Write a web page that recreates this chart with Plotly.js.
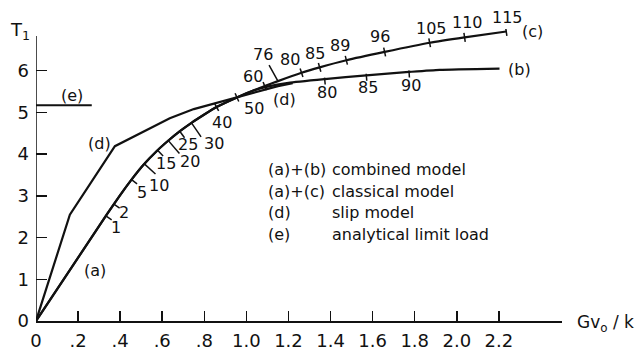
<!DOCTYPE html>
<html>
<head>
<meta charset="utf-8">
<script src="https://cdn.plot.ly/plotly-3.0.1.min.js"></script>
<style>html,body{margin:0;padding:0;background:#fff;}#chart{width:642px;height:353px;}</style>
</head>
<body>
<div id="chart"></div>
<script>
// ---------- data ----------
// shared part: (a) and the start of the curved branch
const commonX = [0, 0.336, 0.40, 0.454, 0.51, 0.573, 0.628, 0.681, 0.739, 0.80, 0.858, 0.955, 1.03];
const commonY = [0, 2.55, 3.02, 3.39, 3.74, 4.07, 4.32, 4.54, 4.75, 4.95, 5.13, 5.36, 5.52];
// (b) branch of the combined model
const bX = [1.10, 1.20, 1.372, 1.57, 1.773, 1.918, 2.203];
const bY = [5.62, 5.71, 5.80, 5.89, 5.97, 6.02, 6.05];
// (c) branch of the classical model
const cX = [1.087, 1.15, 1.262, 1.348, 1.475, 1.657, 1.871, 2.037, 2.235];
const cY = [5.63, 5.75, 5.95, 6.08, 6.25, 6.45, 6.67, 6.80, 6.94];
// (d) slip model
const dX = [0, 0.161, 0.375, 0.494, 0.636, 0.75, 0.858, 0.95, 1.05, 1.15, 1.22];
const dY = [0, 2.55, 4.19, 4.50, 4.86, 5.08, 5.23, 5.36, 5.50, 5.63, 5.70];
// (e) analytical limit load
const eX = [0, 0.265];
const eY = [5.17, 5.17];

// parameter ticks along the curves
const lowerTickLabels = ["1", "2", "5", "10", "15", "20", "25", "30"];
const lowerTickX = [0.332, 0.370, 0.454, 0.515, 0.578, 0.629, 0.683, 0.739];
const cTickLabels = ["40", "50", "60", "80", "85", "89", "96", "105", "110", "115"];
const cTickX = [0.858, 0.955, 1.087, 1.262, 1.348, 1.475, 1.657, 1.871, 2.037, 2.235];
const bTickLabels = ["80", "85", "90"];
const bTickX = [1.372, 1.570, 1.773];
const leaderLabel = "76";
const leaderX = 1.15;

// axis ticks
const xTickVals = [0, 0.2, 0.4, 0.6, 0.8, 1.0, 1.2, 1.4, 1.6, 1.8, 2.0, 2.2];
const xTickText = ["0", ".2", ".4", ".6", ".8", "1.0", "1.2", "1.4", "1.6", "1.8", "2.0", "2.2"];
const yTickVals = [0, 1, 2, 3, 4, 5, 6];
const yTickText = ["0", "1", "2", "3", "4", "5", "6"];

// legend text
const legendKeys = ["(a)+(b)", "(a)+(c)", "(d)", "(e)"];
const legendTexts = ["combined model", "classical model", "slip model", "analytical limit load"];

// ---------- styling / geometry ----------
const W = 642, H = 353;
const M = {l: 36, r: 80, t: 29, b: 32};
const xRange = [0, 2.5], yRange = [0, 7];
const plotW = W - M.l - M.r, plotH = H - M.t - M.b;
const kx = plotW / (xRange[1] - xRange[0]);
const ky = plotH / (yRange[1] - yRange[0]);
const FONT = "DejaVu Sans, sans-serif";
const INK = "#111";

// label offsets (screen px, +x right, +y down) and tick lengths
const lowerLabelOff = [[10,12],[10,8],[10,13],[15,22],[8,13],[22,21],[8,13],[23,21]];
const lowerTickLen = [7, 7, 7, 15, 8, 17, 8, 17];
const cLabelOff = [[5,15],[17,11],[-12,-10],[-12,-13],[-5,-14],[-6,-15],[-5,-15],[2,-14],[3,-15],[1,-14]];
const bLabelOff = [[2,13],[2,12],[2,14]];

function interp(xs, ys, x) {
  if (x <= xs[0]) return ys[0];
  for (let i = 1; i < xs.length; i++) {
    if (x <= xs[i]) {
      const t = (x - xs[i-1]) / (xs[i] - xs[i-1]);
      return ys[i-1] + t * (ys[i] - ys[i-1]);
    }
  }
  return ys[ys.length-1];
}
function normalAt(xs, ys, x) {
  const h = 0.015;
  const x0 = Math.max(xs[0], x - h), x1 = Math.min(xs[xs.length-1], x + h);
  const dx = (x1 - x0) * kx, dy = -(interp(xs, ys, x1) - interp(xs, ys, x0)) * ky;
  const L = Math.hypot(dx, dy);
  const tx = dx / L, ty = dy / L;
  return [-ty, tx]; // points to lower-right side on screen
}
function tickSegments(xs, ys, tx, from, to) {
  const X = [], Y = [];
  tx.forEach((x, i) => {
    const y = interp(xs, ys, x);
    const n = normalAt(xs, ys, x);
    const a = Array.isArray(from) ? from[i] : from;
    const b = Array.isArray(to) ? to[i] : to;
    X.push(x + n[0] * a / kx, x + n[0] * b / kx, null);
    Y.push(y - n[1] * a / ky, y - n[1] * b / ky, null);
  });
  return {X, Y};
}

const pathBX = commonX.filter(x => x < bX[0]).concat(bX);
const pathBY = commonY.slice(0, pathBX.length - bX.length).concat(bY);
const pathCX = commonX.filter(x => x < cX[0]).concat(cX);
const pathCY = commonY.slice(0, pathCX.length - cX.length).concat(cY);

const lineStyle = {color: INK, width: 2.2, shape: "spline", smoothing: 0.5};
const traces = [
  {x: pathBX, y: pathBY, mode: "lines", line: lineStyle, name: "(a)+(b)"},
  {x: pathCX, y: pathCY, mode: "lines", line: lineStyle, name: "(a)+(c)"},
  {x: dX, y: dY, mode: "lines", line: {color: INK, width: 2.2}, name: "(d)"},
  {x: eX, y: eY, mode: "lines", line: {color: INK, width: 2}, name: "(e)"}
];
const tl = tickSegments(pathCX, pathCY, lowerTickX, 0, lowerTickLen);
const tc = tickSegments(pathCX, pathCY, cTickX, -4.5, 4.5);
const tb = tickSegments(pathBX, pathBY, bTickX, -1.5, 5.5);
[tl, tc, tb].forEach(t => traces.push({x: t.X, y: t.Y, mode: "lines", line: {color: INK, width: 1.5}, hoverinfo: "skip"}));

const annotations = [];
function addLabels(xs, ys, tx, labels, offs) {
  tx.forEach((x, i) => {
    annotations.push({x: x, y: interp(xs, ys, x), xref: "x", yref: "y", text: labels[i], showarrow: false,
      xshift: offs[i][0], yshift: -offs[i][1], font: {family: FONT, size: 16, color: INK}});
  });
}
addLabels(pathCX, pathCY, lowerTickX, lowerTickLabels, lowerLabelOff);
addLabels(pathCX, pathCY, cTickX, cTickLabels, cLabelOff);
addLabels(pathBX, pathBY, bTickX, bTickLabels, bLabelOff);
annotations.push({x: leaderX, y: interp(pathCX, pathCY, leaderX), xref: "x", yref: "y", text: leaderLabel,
  showarrow: true, arrowhead: 0, arrowwidth: 1.5, arrowcolor: INK, ax: -15, ay: -27, standoff: 0,
  font: {family: FONT, size: 16, color: INK}});

const lab = (x, y, t, extra) => Object.assign({x, y, xref: "x", yref: "y", text: t, showarrow: false,
  font: {family: FONT, size: 16, color: INK}}, extra || {});
annotations.push(lab(0.1725, 5.40, "(e)"));
annotations.push(lab(0.30, 4.26, "(d)"));
annotations.push(lab(0.28, 1.22, "(a)"));
annotations.push(lab(1.183, 5.32, "(d)"));
annotations.push(lab(2.30, 6.94, "(c)", {xanchor: "left"}));
annotations.push(lab(2.235, 6.02, "(b)", {xanchor: "left"}));

const legendY = [3.62, 3.10, 2.59, 2.07];
legendKeys.forEach((k, i) => {
  annotations.push(lab(1.093, legendY[i], k, {xanchor: "left"}));
  annotations.push(lab(1.397, legendY[i], legendTexts[i], {xanchor: "left"}));
});
// axis titles placed in paper coordinates (outside the data range)
annotations.push({xref: "paper", yref: "paper", x: (8 - M.l) / plotW, y: (H - M.b - 31 - (H - M.b - plotH - M.t)) / plotH,
  xanchor: "left", yanchor: "middle", text: "T<sub>1</sub>", showarrow: false, font: {family: FONT, size: 18, color: INK}});
annotations.push({xref: "paper", yref: "paper", x: (575 - M.l) / plotW, y: 0,
  xanchor: "left", yanchor: "middle", yshift: -2, text: "Gv<sub>o</sub> / k", showarrow: false, font: {family: FONT, size: 17, color: INK}});

const layout = {
  width: W, height: H, margin: M, showlegend: false,
  paper_bgcolor: "#fff", plot_bgcolor: "#fff",
  font: {family: FONT, color: INK},
  xaxis: {range: xRange, showline: true, linecolor: INK, linewidth: 1.5, showgrid: false, zeroline: false,
    ticks: "inside", ticklen: 10, tickwidth: 1.5, tickcolor: INK, tickvals: xTickVals, ticktext: xTickText,
    tickfont: {family: FONT, size: 18, color: INK}, ticklabelstandoff: 3},
  yaxis: {range: yRange, showline: false, showgrid: false, zeroline: false,
    ticks: "inside", ticklen: 11, tickwidth: 1.5, tickcolor: INK, tickvals: yTickVals, ticktext: yTickText,
    tickfont: {family: FONT, size: 18, color: INK}, ticklabelstandoff: 6},
  shapes: [{type: "line", xref: "x", yref: "y", x0: 0, x1: 0, y0: 0, y1: 6.83, line: {color: INK, width: 1.5}}],
  annotations: annotations
};
Plotly.newPlot("chart", traces, layout, {staticPlot: true, displayModeBar: false});
</script>
</body>
</html>
